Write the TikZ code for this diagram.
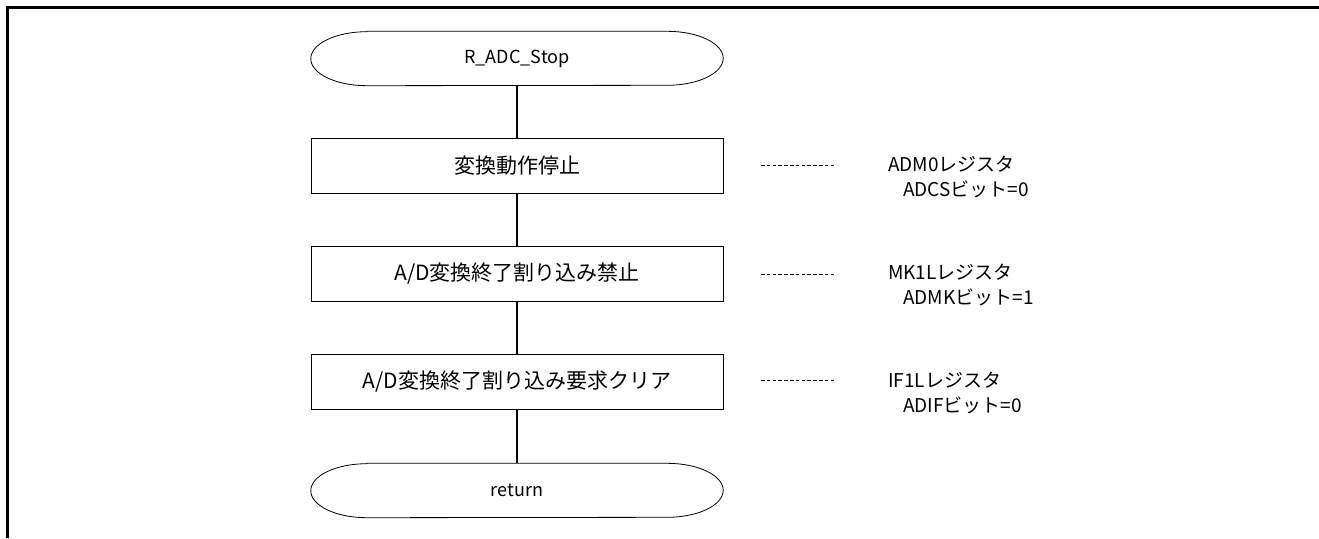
\documentclass[tikz,border=0pt]{standalone}
\usepackage{fontspec}
\setmainfont{Noto Sans CJK JP}
\usepackage{tikz}
\usetikzlibrary{calc,positioning}

\begin{document}
\begin{tikzpicture}[x=1pt,y=-1pt,
  term/.style={minimum width=412pt, minimum height=54pt, inner sep=0pt, font=\fontsize{18}{22}\selectfont},
  proc/.style={draw, line width=0.8pt, minimum width=412pt, minimum height=55pt, inner sep=0pt, font=\fontsize{21}{24}\selectfont},
  reg/.style={anchor=north west, align=left, inner sep=0pt, font=\fontsize{19}{25}\selectfont},
  leader/.style={line width=0.9pt, dash pattern=on 3.5pt off 2.3pt}]
\useasboundingbox (0,0) rectangle (1319,538);
\draw[line width=2.5pt] (7.5,538) -- (7.5,7.5) -- (1319,7.5);

\node[term] (start) at (517,58.5) {R\_ADC\_Stop};
\node[proc] (b1) at (517,165.5) {変換動作停止};
\node[proc] (b2) at (517,274) {A/D変換終了割り込み禁止};
\node[proc] (b3) at (517,382) {A/D変換終了割り込み要求クリア};
\node[term] (ret) at (517,490.5) {return};

% terminals with elliptic ends
\foreach \t in {start,ret}
  \draw[line width=0.8pt] ([xshift=56pt]\t.north west) -- ([xshift=-56pt]\t.north east)
    arc[start angle=90, end angle=-90, x radius=56pt, y radius=27pt]
    -- ([xshift=56pt]\t.south west)
    arc[start angle=270, end angle=90, x radius=56pt, y radius=27pt] -- cycle;

\draw[line width=1.2pt] (start) -- (b1) -- (b2) -- (b3) -- (ret);

% register settings
\node[reg] (r1) at (888,156) {ADM0レジスタ\\\hspace{15pt}ADCSビット=0};
\node[reg] (r2) at (888,264) {MK1Lレジスタ\\\hspace{15pt}ADMKビット=1};
\node[reg] (r3) at (888,372) {IF1Lレジスタ\\\hspace{15pt}ADIFビット=0};
\foreach \i/\y in {1/165.5,2/274,3/380} {
  \coordinate (s\i) at (761,\y);
  \coordinate (e\i) at (835,\y);
  \draw[leader] (s\i) -- (e\i);
}
\end{tikzpicture}
\end{document}
